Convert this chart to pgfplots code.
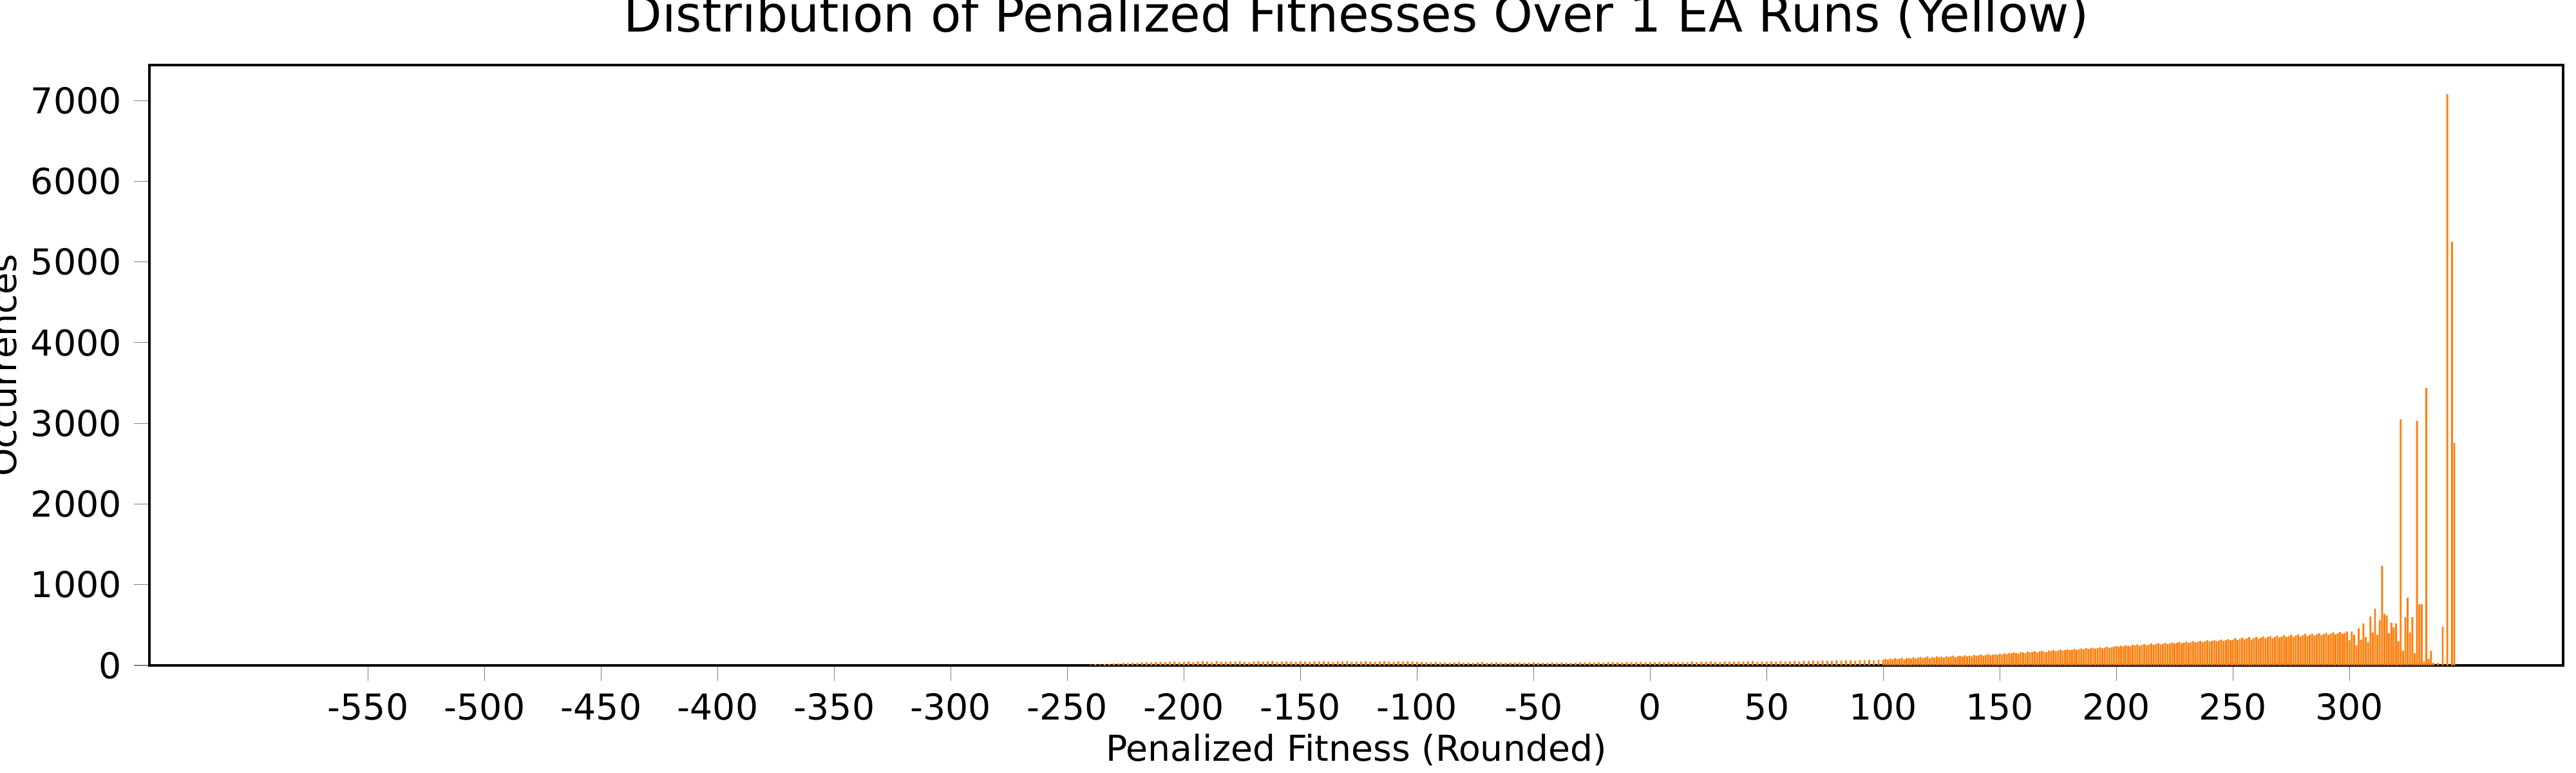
\documentclass[border=0pt]{standalone}
\usepackage{pgfplots}
\pgfplotsset{compat=1.18}
\usepackage{fontspec}
\setmainfont{DejaVu Sans}
\definecolor{mplorange}{HTML}{FF7F0E}
\begin{document}
\begin{tikzpicture}
\path[use as bounding box] (-0.58in,-0.4175in) rectangle (9.42in,2.5825in);
\begin{axis}[
  at={(0,0)}, anchor=south west,
  width=9.37in, height=2.33in, scale only axis,
  xmin=-643.8, xmax=391.7, ymin=0, ymax=7440,
  xtick={-550,-500,...,300}, ytick={0,1000,...,7000},
  scaled y ticks=false, scaled x ticks=false,
  /pgf/number format/assume math mode=true,
  /pgf/number format/1000 sep={},
  tick label style={font=\fontsize{10}{12}\selectfont},
  label style={font=\fontsize{10}{12}\selectfont},
  title style={font=\fontsize{14}{16}\selectfont, yshift=-2pt},
  title={Distribution of Penalized Fitnesses Over 1 EA Runs (Yellow)},
  xlabel={Penalized Fitness (Rounded)}, ylabel={Occurrences},
  xlabel style={yshift=3pt}, ylabel style={yshift=-3pt},
  tick align=outside, tick pos=left, axis line style={thick},
]
\addplot[ybar, bar width=0.8, bar shift=0pt, fill=mplorange, draw=none] table[x expr=-240+2*\coordindex, y index=0] {
y
10
15
12
18
20
22
25
30
28
35
32
38
40
36
42
45
40
44
48
42
45
50
42
48
52
46
40
55
48
44
50
47
53
45
41
49
52
46
50
55
43
47
51
48
44
52
49
45
50
46
53
47
42
51
48
55
44
49
46
52
50
45
48
53
47
44
50
46
52
48
45
42
40
38
44
36
40
35
38
42
34
37
33
36
40
32
35
38
34
30
36
33
37
31
35
38
32
34
30
36
33
37
35
31
34
38
36
40
35
39
37
42
38
40
36
43
39
41
44
40
42
38
44
40
46
42
39
45
43
48
41
46
44
50
45
42
47
49
44
51
46
48
52
45
50
47
53
49
55
51
48
54
50
56
52
58
54
60
56
55
62
58
60
64
59
66
62
68
65
70
};
\addplot[ybar, bar width=0.8, bar shift=0pt, fill=mplorange, draw=none] table[x expr=100+\coordindex, y index=0] {
y
72
80
68
85
75
90
78
82
95
70
88
92
84
100
86
95
105
90
98
110
88
102
96
112
100
108
95
115
104
110
120
100
112
118
108
125
115
120
110
130
118
125
135
120
128
140
125
132
138
130
145
135
150
140
155
148
160
152
145
165
158
150
170
162
168
175
160
172
180
170
165
185
178
190
175
182
195
185
190
200
188
195
205
192
200
210
198
215
205
210
220
208
215
225
212
220
230
218
225
235
240
230
245
235
250
242
238
255
248
260
245
252
265
250
258
270
255
262
275
260
268
280
265
272
285
270
278
290
275
282
295
280
288
300
285
292
305
290
298
310
295
302
315
300
308
320
305
312
325
310
320
340
315
330
345
325
335
350
320
340
355
330
345
360
335
350
365
340
355
370
345
360
375
350
365
380
355
370
385
360
375
390
365
380
395
370
385
400
375
390
405
380
395
410
385
400
415
390
405
420
310
420
380
250
460
320
520
350
290
607
410
704
380
560
1235
637
620
400
530
470
520
300
3050
180
600
840
410
600
150
3030
757
757
50
3440
80
180
30
0
30
0
480
0
7080
0
5250
2760
};
\end{axis}
\end{tikzpicture}
\end{document}
